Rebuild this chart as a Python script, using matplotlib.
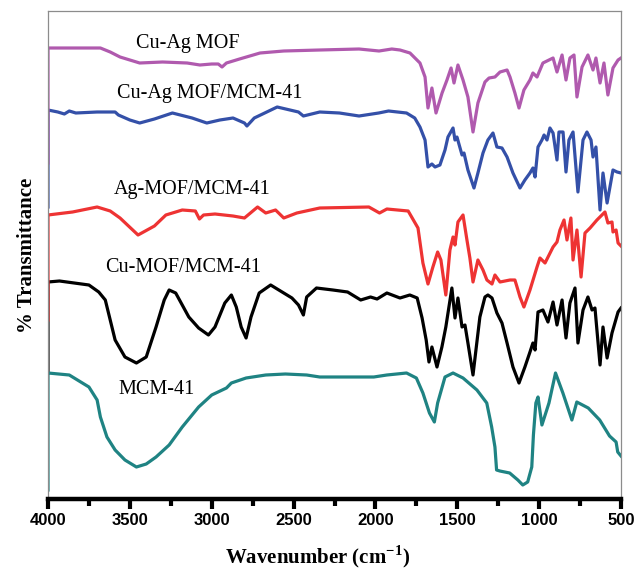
import numpy as np
import matplotlib.pyplot as plt

plt.rcParams['mathtext.fontset'] = 'custom'
plt.rcParams['mathtext.rm'] = 'Liberation Serif:bold'
plt.rcParams['mathtext.bf'] = 'Liberation Serif:bold'

# FTIR spectra, wavenumber (cm-1) and stacked transmittance (a.u., offset per sample)
mcm_wn = [4000, 3870, 3790, 3750, 3700, 3680, 3640, 3590, 3530, 3460, 3400, 3340, 3260, 3180,
          3080, 3000, 2910, 2880, 2790, 2670, 2550, 2420, 2340, 2170, 2010, 1930, 1810, 1750,
          1710, 1670, 1640, 1620, 1575, 1526, 1465, 1380, 1320, 1290, 1270, 1260, 1240, 1180,
          1130, 1100, 1070, 1045, 1035, 1020, 1007, 983, 940, 900, 855, 800, 770, 700, 630,
          570, 530, 520, 500]
mcm_t = [126, 124, 116, 112, 99, 82, 62, 49, 39, 32, 35, 42, 54, 72,
         92, 104, 111, 116, 121, 124, 125, 124, 122, 122, 122, 124, 126, 121,
         106, 86, 77, 96, 122, 126, 121, 109, 96, 72, 52, 29, 28, 26,
         19, 14, 17, 32, 64, 96, 102, 74, 96, 126, 106, 79, 97, 91, 79,
         63, 57, 47, 43]

cu_wn = [4000, 3930, 3750, 3690, 3650, 3620, 3590, 3530, 3460, 3400, 3340, 3290, 3260, 3220,
         3140, 3080, 3020, 2980, 2920, 2880, 2850, 2820, 2790, 2760, 2710, 2640, 2570, 2510,
         2470, 2440, 2420, 2360, 2260, 2170, 2090, 2030, 1990, 1930, 1850, 1790, 1745, 1715,
         1690, 1673, 1655, 1624, 1594, 1570, 1533, 1514, 1496, 1471, 1453, 1435, 1404, 1386,
         1362, 1331, 1313, 1288, 1258, 1227, 1196, 1160, 1123, 1087, 1056, 1038, 1025, 1007,
         977, 946, 915, 891, 860, 836, 812, 781, 763, 732, 702, 677, 659, 628, 610, 585,
         555, 518, 500]
cu_t = [217, 218, 214, 207, 199, 179, 159, 142, 136, 142, 172, 199, 209, 206,
        182, 171, 164, 172, 196, 204, 192, 172, 161, 182, 206, 214, 207, 201,
        194, 184, 202, 211, 209, 207, 199, 202, 200, 206, 201, 204, 201, 181,
        159, 137, 152, 132, 152, 172, 211, 181, 201, 172, 174, 156, 124, 149,
        182, 202, 204, 201, 186, 176, 156, 132, 116, 132, 147, 156, 149, 187,
        189, 177, 197, 174, 199, 161, 196, 211, 156, 189, 202, 189, 191, 134, 172, 141,
        166, 187, 191]

ag_wn = [4000, 3850, 3700, 3620, 3560, 3450, 3350, 3280, 3180, 3100, 3075, 3050, 2980, 2870,
         2800, 2720, 2670, 2610, 2560, 2480, 2340, 2040, 1975, 1930, 1800, 1740, 1710, 1679,
         1649, 1620, 1600, 1570, 1545, 1526, 1514, 1496, 1465, 1441, 1423, 1404, 1374, 1343,
         1319, 1288, 1270, 1239, 1178, 1148, 1135, 1117, 1093, 1056, 1013, 995, 964, 915,
         891, 873, 848, 830, 806, 793, 769, 744, 720, 689, 647, 598, 580, 555, 549, 530,
         518, 500]
ag_t = [284, 287, 292, 288, 281, 264, 273, 284, 289, 288, 280, 284, 285, 283,
        281, 292, 286, 289, 281, 286, 291, 292, 286, 290, 288, 271, 236, 215,
        232, 247, 239, 204, 249, 262, 254, 277, 284, 259, 241, 217, 239, 229,
        219, 215, 224, 217, 219, 219, 212, 202, 192, 209, 232, 241, 236, 252,
        257, 269, 279, 259, 281, 239, 269, 222, 266, 271, 279, 287, 276, 277, 267, 269,
        256, 253]

cuag_mcm_wn = [4000, 3940, 3900, 3870, 3830, 3700, 3590, 3570, 3500, 3440, 3350, 3240, 3120,
               3030, 2950, 2870, 2800, 2785, 2740, 2600, 2470, 2440, 2340, 2220, 2100, 1980,
               1920, 1810, 1760, 1728, 1697, 1679, 1655, 1636, 1606, 1575, 1557, 1526, 1514,
               1502, 1471, 1459, 1435, 1398, 1374, 1343, 1313, 1282, 1258, 1227, 1196, 1160,
               1117, 1087, 1056, 1038, 1025, 1007, 983, 970, 952, 934, 915, 891, 879, 854,
               836, 818, 793, 763, 732, 708, 683, 671, 653, 628, 610, 585, 549, 524, 500]
cuag_mcm_t = [389, 387, 385, 388, 386, 387, 387, 384, 379, 376, 380, 386, 381,
              376, 379, 381, 376, 373, 381, 392, 387, 383, 387, 386, 383, 386,
              388, 386, 381, 372, 359, 332, 335, 332, 334, 349, 362, 371, 359,
              362, 344, 346, 329, 311, 326, 346, 359, 366, 352, 351, 342, 326,
              311, 319, 326, 331, 322, 352, 359, 364, 359, 371, 366, 339, 367, 367,
              327, 359, 367, 307, 359, 367, 359, 342, 352, 289, 326, 296, 329, 327, 326]

cuag_wn = [4000, 3680, 3620, 3560, 3440, 3300, 3150, 3072, 3000, 2960, 2937, 2910, 2830, 2705,
           2560, 2340, 2100, 1978, 1900, 1850, 1789, 1728, 1697, 1679, 1655, 1630, 1593, 1563,
           1538, 1520, 1496, 1465, 1435, 1404, 1374, 1331, 1306, 1270, 1239, 1196, 1178, 1148,
           1123, 1093, 1056, 1038, 1013, 977, 915, 891, 860, 836, 812, 787, 769, 738, 702,
           671, 653, 628, 604, 580, 549, 518, 500]
cuag_t = [451, 451, 447, 442, 436, 437, 436, 434, 435, 435, 432, 436, 440, 446,
          448, 449, 450, 448, 450, 449, 446, 436, 422, 391, 411, 386, 406, 419,
          431, 416, 434, 419, 402, 367, 396, 417, 421, 422, 427, 429, 422, 406,
          391, 409, 419, 426, 422, 436, 441, 427, 444, 419, 441, 444, 402, 432, 444,
          429, 441, 416, 436, 404, 431, 439, 441]

names = ['MCM-41', 'Cu-MOF/MCM-41', 'Ag-MOF/MCM-41', 'Cu-Ag MOF/MCM-41', 'Cu-Ag MOF']
spectra_wn = [mcm_wn, cu_wn, ag_wn, cuag_mcm_wn, cuag_wn]
spectra_t = [mcm_t, cu_t, ag_t, cuag_mcm_t, cuag_t]
# each trace starts with a vertical drop at 4000 cm-1 down to this level
edge_low = [9, 126, 179, 292, 336]
colors = ['#1f8383', 'black', '#ee3333', '#3450a8', '#b05aae']
draw_order = [1, 0, 3, 2, 4]

# label anchor (wavenumber, level)
label_pos = [(3334, 110), (3175, 232), (3120, 310), (3010, 406), (3145, 456)]

fig = plt.figure(figsize=(6.34, 5.71), dpi=100)
ax = fig.add_axes([48/634, 72/571, 573/634, 488/571])

for i in draw_order:
    wn = [spectra_wn[i][0]] + spectra_wn[i]
    t = [edge_low[i]] + spectra_t[i]
    ax.plot(wn, t, color=colors[i], lw=2.3, solid_joinstyle='round')

for i in range(len(names)):
    ax.text(label_pos[i][0], label_pos[i][1], names[i], ha='center', va='center',
            family='Liberation Serif', fontsize=14.5)

ax.set_xlim(4000, 500)
ax.set_ylim(0, 488)
ax.set_xticks(np.arange(4000, 499, -500))
ax.set_xticks(np.arange(3750, 500, -500), minor=True)
ax.set_yticks([])

for s in ['top', 'right', 'left']:
    ax.spines[s].set_color('#8c8c8c')
    ax.spines[s].set_linewidth(0.9)
ax.spines['bottom'].set_linewidth(3.2)
ax.tick_params(axis='x', which='major', direction='out', length=7, width=3, pad=3)
ax.tick_params(axis='x', which='minor', direction='out', length=5, width=3)
for lab in ax.get_xticklabels():
    lab.set_family(['Liberation Sans Narrow', 'Liberation Sans'])
    lab.set_fontweight('bold')
    lab.set_fontsize(12)

ax.set_xlabel(r'Wavenumber (cm$^{\mathbf{-1}}$)', family='Liberation Serif',
              fontweight='bold', fontsize=15, va='center')
ax.xaxis.set_label_coords((318 - 48) / 573, -0.118)
ax.set_ylabel('% Transmittance', family='Liberation Serif', fontweight='bold',
              fontsize=15, labelpad=8)

fig.savefig('out.png', dpi=100)
